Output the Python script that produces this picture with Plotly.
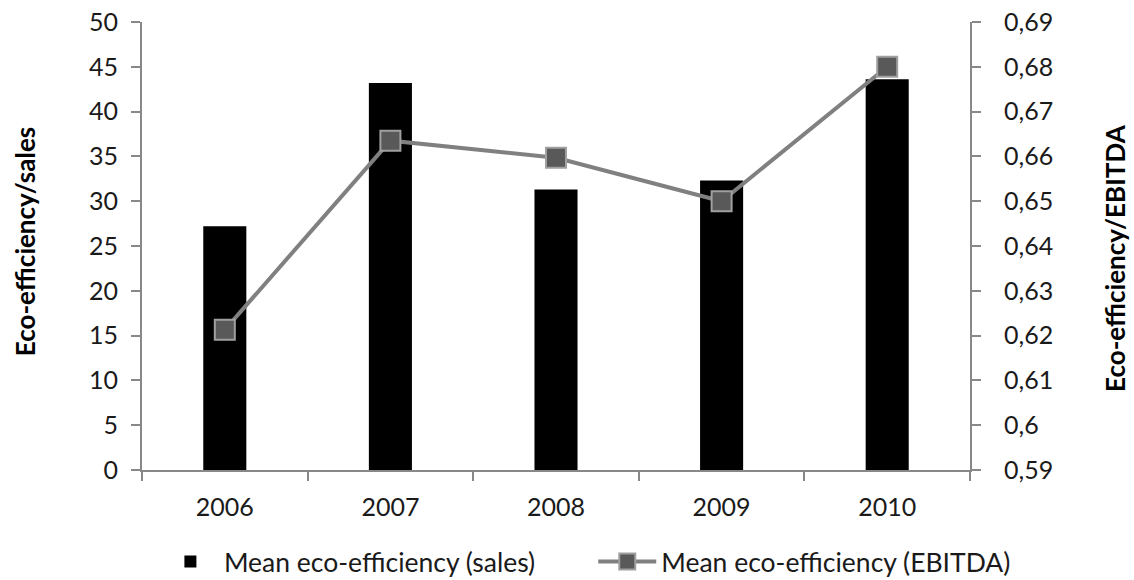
import plotly.graph_objects as go

years = ["2006", "2007", "2008", "2009", "2010"]
sales_eff = [27.2, 43.2, 31.3, 32.3, 43.6]
ebitda_eff = [0.6213, 0.6635, 0.6597, 0.6500, 0.6800]
left_ticks = [0, 5, 10, 15, 20, 25, 30, 35, 40, 45, 50]
right_ticks = [0.59, 0.60, 0.61, 0.62, 0.63, 0.64, 0.65, 0.66, 0.67, 0.68, 0.69]
right_labels = [("%g" % v).replace(".", ",") for v in right_ticks]

FONT = "Lato"

fig = go.Figure()
fig.add_trace(go.Bar(
    x=years, y=sales_eff, name="Mean eco-efficiency (sales)",
    marker=dict(color="black", line=dict(width=0)), width=0.26, yaxis="y",
    legend="legend",
))
fig.add_trace(go.Scatter(
    x=years, y=ebitda_eff, name="Mean eco-efficiency (EBITDA)", yaxis="y2",
    mode="lines+markers",
    line=dict(color="#808080", width=4),
    marker=dict(symbol="square", size=20, color="#595959",
                line=dict(color="#a0a0a0", width=2)),
    legend="legend2",
))

axis_common = dict(showline=True, linecolor="#888888", linewidth=2,
                   ticks="outside", tickcolor="#888888", ticklen=9, tickwidth=2,
                   showgrid=False, zeroline=False,
                   tickfont=dict(family=FONT, size=25, color="#1a1a1a"))

legend_font = dict(family=FONT, size=26.5, color="#1a1a1a")

fig.update_layout(
    width=1134, height=580,
    margin=dict(l=142, r=164, t=22, b=110, autoexpand=False),
    paper_bgcolor="white", plot_bgcolor="white",
    showlegend=True,
    xaxis=dict(type="category", range=[-0.5, 4.5], tickson="boundaries",
               ticklabelstandoff=14, **axis_common),
    yaxis=dict(range=[0, 50], tickvals=left_ticks, ticklabelstandoff=8,
               **axis_common),
    yaxis2=dict(range=[0.59, 0.69], tickvals=right_ticks, ticktext=right_labels,
                overlaying="y", side="right", ticklabelstandoff=18, **axis_common),
    legend=dict(orientation="h", x=0.018, xanchor="left", y=-0.205, yanchor="middle",
                itemwidth=57, font=legend_font, bgcolor="rgba(0,0,0,0)"),
    legend2=dict(orientation="h", x=0.545, xanchor="left", y=-0.205, yanchor="middle",
                 itemwidth=58, font=legend_font, bgcolor="rgba(0,0,0,0)"),
    annotations=[
        dict(text="<b>Eco-efficiency/sales</b>", xref="paper", yref="paper",
             x=-0.141, y=0.509, xanchor="center", yanchor="middle",
             textangle=-90, showarrow=False,
             font=dict(family=FONT, size=26, color="black")),
        dict(text="<b>Eco-efficiency/EBITDA</b>", xref="paper", yref="paper",
             x=1.175, y=0.473, xanchor="center", yanchor="middle",
             textangle=-90, showarrow=False,
             font=dict(family=FONT, size=26, color="black")),
    ],
)

fig.write_html("out.html", config={"displayModeBar": False},
               post_script="document.body.style.margin='0';")
